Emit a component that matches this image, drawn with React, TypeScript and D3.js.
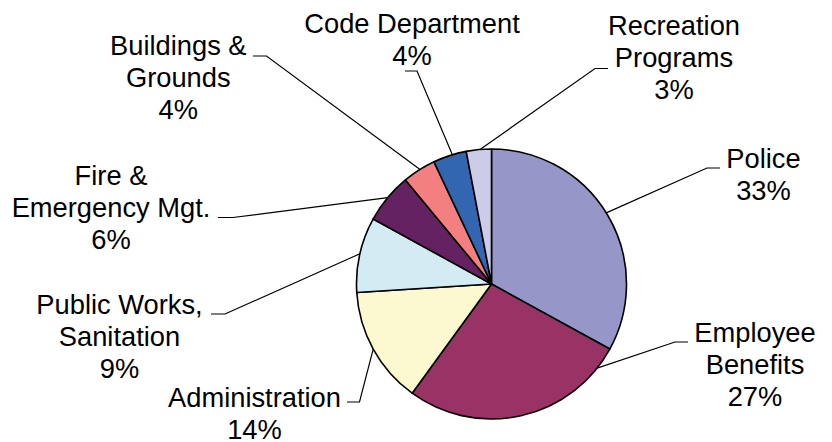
import React, { useEffect, useRef } from 'react';
import * as d3 from 'd3';

// slices clockwise from 12 o'clock
const categories = [
  'Police',
  'Employee Benefits',
  'Administration',
  'Public Works, Sanitation',
  'Fire & Emergency Mgt.',
  'Buildings & Grounds',
  'Code Department',
  'Recreation Programs',
];
const values = [33, 27, 14, 9, 6, 4, 4, 3];
const labelLines = [
  ['Police'],
  ['Employee', 'Benefits'],
  ['Administration'],
  ['Public Works,', 'Sanitation'],
  ['Fire &', 'Emergency Mgt.'],
  ['Buildings &', 'Grounds'],
  ['Code Department'],
  ['Recreation', 'Programs'],
];
const colors = ['#9696C8', '#993366', '#FCF8D0', '#D3ECF3', '#652262', '#F47F80', '#3266B0', '#CCCCE8'];

// label layout: where the leader leaves the slice (fraction of its angle), elbow, tail end, text centre + first baseline
const layout = [
  { frac: 0.49, elbow: [707, 168], tail: 720, lx: 763.5, ly: 167.5 },
  { frac: 0.1, elbow: [675, 342], tail: 688, lx: 755, ly: 341.5 },
  { frac: 0.5, elbow: [359.5, 402], tail: 347, lx: 254.5, ly: 407 },
  { frac: 0.51, elbow: [225, 314], tail: 211, lx: 119.5, ly: 314 },
  { frac: 0.51, elbow: [233, 217.5], tail: 218, lx: 111, ly: 185 },
  { frac: 0.53, elbow: [266.5, 56], tail: 253, lx: 178.3, ly: 55 },
  { frac: 0.58, elbow: [417, 71], tail: 405, lx: 412, ly: 32.5 },
  { frac: 0.55, elbow: [595, 68.5], tail: 608, lx: 674, ly: 35 },
];

const W = 832;
const H = 442;
const cx = 491.5;
const cy = 284;
const R = 135;
const fontSize = 27.3;
const lineGap = 32;

export default function App() {
  const ref = useRef<SVGSVGElement>(null);

  useEffect(() => {
    if (!ref.current) return;
    const svg = d3.select(ref.current);
    svg.selectAll('*').remove();

    const data = values.map((v, i) => ({ name: categories[i], value: v, i }));
    const pie = d3.pie<{ name: string; value: number; i: number }>()
      .sort(null)
      .value(d => d.value)
      .startAngle(0)
      .endAngle(2 * Math.PI);
    const arcs = pie(data);
    const arc = d3.arc<d3.PieArcDatum<{ name: string; value: number; i: number }>>()
      .innerRadius(0)
      .outerRadius(R);

    const g = svg.append('g').attr('transform', `translate(${cx},${cy})`);
    g.selectAll('path.slice')
      .data(arcs)
      .join('path')
      .attr('class', 'slice')
      .attr('d', arc)
      .attr('fill', d => colors[d.data.i])
      .attr('stroke', '#000')
      .attr('stroke-width', 1.6)
      .attr('stroke-linejoin', 'round');

    // leader lines
    arcs.forEach((a, i) => {
      const L = layout[i];
      const ang = a.startAngle + (a.endAngle - a.startAngle) * L.frac;
      const sx = cx + R * Math.sin(ang);
      const sy = cy - R * Math.cos(ang);
      svg.append('path')
        .attr('d', `M${sx},${sy}L${L.elbow[0]},${L.elbow[1]}L${L.tail},${L.elbow[1]}`)
        .attr('fill', 'none')
        .attr('stroke', '#000')
        .attr('stroke-width', 1.2);
    });

    // labels
    arcs.forEach((a, i) => {
      const L = layout[i];
      const lines = [...labelLines[i], `${a.data.value}%`];
      const t = svg.append('text')
        .attr('text-anchor', 'middle')
        .attr('font-family', '"Liberation Sans", Arial, sans-serif')
        .attr('font-size', fontSize)
        .attr('fill', '#000');
      lines.forEach((ln, k) => {
        t.append('tspan').attr('x', L.lx).attr('y', L.ly + k * lineGap).text(ln);
      });
    });
  }, []);

  return (
    <div style={{ position: 'absolute', left: 0, top: 0, width: W, height: H, background: '#fff' }}>
      <svg ref={ref} width={W} height={H} />
    </div>
  );
}
